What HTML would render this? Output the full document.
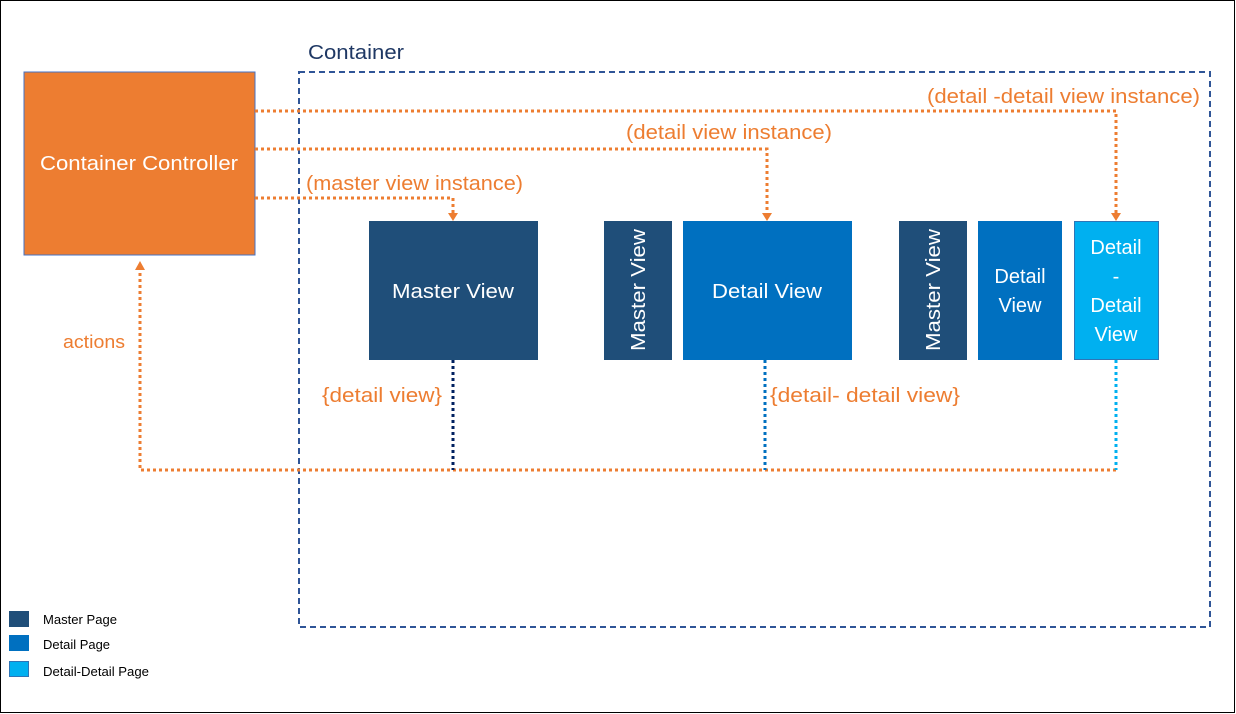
<!DOCTYPE html>
<html><head><meta charset="utf-8"><style>
html,body{margin:0;padding:0;background:#fff}
svg{display:block}
text{font-family:"Liberation Sans",sans-serif}
</style></head><body>
<svg width="1236" height="714" viewBox="0 0 1236 714" xmlns="http://www.w3.org/2000/svg">
<rect x="0.5" y="0.5" width="1234" height="712" fill="#fff" stroke="#000" stroke-width="1"/>
<text x="308" y="59" font-size="20" fill="#1F3864" textLength="96" lengthAdjust="spacingAndGlyphs">Container</text>
<rect x="299" y="72" width="911" height="555" fill="none" stroke="#2F5597" stroke-width="2" stroke-dasharray="6,4"/>
<rect x="24" y="72" width="231" height="183" fill="#ED7D31" stroke="#4472C4" stroke-width="1"/>
<text x="40" y="170" font-size="20" fill="#fff" textLength="198" lengthAdjust="spacingAndGlyphs">Container Controller</text>
<g fill="none" stroke="#ED7D31" stroke-width="3" stroke-dasharray="3,3">
<polyline points="255,111 1116,111 1116,214"/>
<polyline points="255,149 767,149 767,214"/>
<polyline points="255,198 453,198 453,214"/>
<polyline points="1116,470 140,470 140,266"/>
</g>
<g fill="#ED7D31">
<polygon points="1111,213 1121,213 1116,221"/>
<polygon points="762,213 772,213 767,221"/>
<polygon points="448,213 458,213 453,221"/>
<polygon points="135,270 145,270 140,261"/>
</g>
<g font-size="20" fill="#ED7D31" lengthAdjust="spacingAndGlyphs">
<text x="927" y="103" textLength="273" lengthAdjust="spacingAndGlyphs">(detail -detail view instance)</text>
<text x="626" y="139" textLength="206" lengthAdjust="spacingAndGlyphs">(detail view instance)</text>
<text x="306" y="190" textLength="217" lengthAdjust="spacingAndGlyphs">(master view instance)</text>
<text x="63" y="348" font-size="18" textLength="62" lengthAdjust="spacingAndGlyphs">actions</text>
<text x="322" y="402" textLength="120" lengthAdjust="spacingAndGlyphs">{detail view}</text>
<text x="770" y="402" textLength="190" lengthAdjust="spacingAndGlyphs">{detail- detail view}</text>
</g>
<g stroke-width="3" stroke-dasharray="3,3" fill="none">
<line x1="453" y1="360" x2="453" y2="470" stroke="#002060"/>
<line x1="765" y1="360" x2="765" y2="470" stroke="#0070C0"/>
<line x1="1116" y1="360" x2="1116" y2="470" stroke="#00B0F0"/>
</g>
<rect x="369" y="221" width="169" height="139" fill="#1F4E79"/>
<text x="392" y="298" font-size="20" fill="#fff" textLength="122" lengthAdjust="spacingAndGlyphs">Master View</text>
<rect x="604" y="221" width="68" height="139" fill="#1F4E79"/>
<text transform="translate(645,351) rotate(-90)" font-size="20" fill="#fff" textLength="122" lengthAdjust="spacingAndGlyphs">Master View</text>
<rect x="683" y="221" width="169" height="139" fill="#0070C0"/>
<text x="712" y="298" font-size="20" fill="#fff" textLength="110" lengthAdjust="spacingAndGlyphs">Detail View</text>
<rect x="899" y="221" width="68" height="139" fill="#1F4E79"/>
<text transform="translate(940,351) rotate(-90)" font-size="20" fill="#fff" textLength="122" lengthAdjust="spacingAndGlyphs">Master View</text>
<rect x="978" y="221" width="84" height="139" fill="#0070C0"/>
<text x="1020" y="283" font-size="20" fill="#fff" text-anchor="middle">Detail</text>
<text x="1020" y="312" font-size="20" fill="#fff" text-anchor="middle">View</text>
<rect x="1074.5" y="221.5" width="84" height="138" fill="#00B0F0" stroke="#2E75B6" stroke-width="1"/>
<text x="1116" y="254" font-size="20" fill="#fff" text-anchor="middle">Detail</text>
<text x="1116" y="283" font-size="20" fill="#fff" text-anchor="middle">-</text>
<text x="1116" y="312" font-size="20" fill="#fff" text-anchor="middle">Detail</text>
<text x="1116" y="341" font-size="20" fill="#fff" text-anchor="middle">View</text>
<rect x="9" y="611" width="20" height="16" fill="#1F4E79"/>
<rect x="9" y="635" width="20" height="16" fill="#0070C0"/>
<rect x="9.5" y="661.5" width="19" height="15" fill="#00B0F0" stroke="#2E75B6" stroke-width="1"/>
<g font-size="13" fill="#000">
<text x="43" y="624" textLength="74" lengthAdjust="spacingAndGlyphs">Master Page</text>
<text x="43" y="649" textLength="67" lengthAdjust="spacingAndGlyphs">Detail Page</text>
<text x="43" y="676" textLength="106" lengthAdjust="spacingAndGlyphs">Detail-Detail Page</text>
</g>
</svg>
</body></html>
